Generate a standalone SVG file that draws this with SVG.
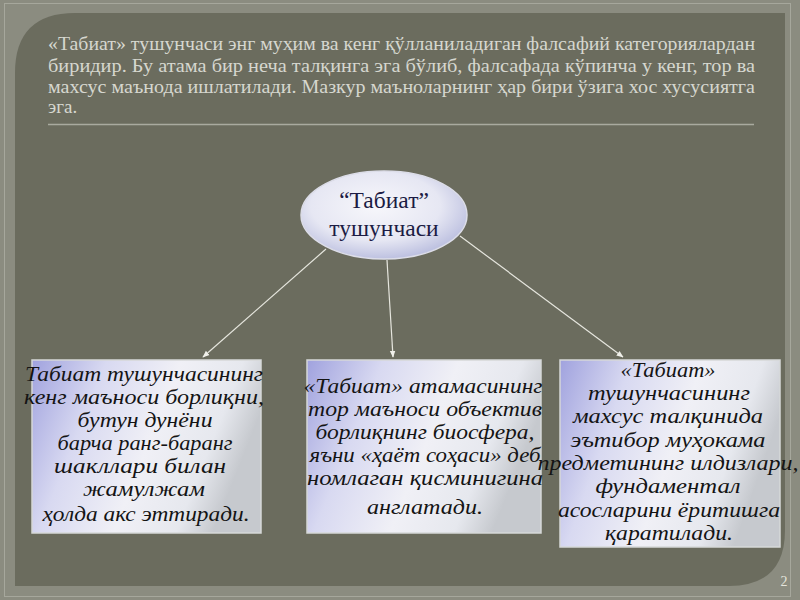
<svg xmlns="http://www.w3.org/2000/svg" width="800" height="600" viewBox="0 0 800 600">
  <defs>
    <radialGradient id="gEll" cx="0.45" cy="0.4" r="0.65">
      <stop offset="0" stop-color="#f7f7fb"/>
      <stop offset="0.6" stop-color="#e6e7f3"/>
      <stop offset="1" stop-color="#b4b8dc"/>
    </radialGradient>
    <linearGradient id="gBox" x1="0" y1="0" x2="1" y2="0.3">
      <stop offset="0" stop-color="#a0a2de"/>
      <stop offset="0.3" stop-color="#d8d9f1"/>
      <stop offset="0.6" stop-color="#f0f0f6"/>
      <stop offset="0.85" stop-color="#e6e8ee"/>
      <stop offset="1" stop-color="#c6c9ce"/>
    </linearGradient>
    <marker id="arr" viewBox="0 0 10 10" refX="9" refY="5" markerWidth="7" markerHeight="7" orient="auto" markerUnits="userSpaceOnUse">
      <path d="M0,1 L10,5 L0,9 Z" fill="#f0f0ea"/>
    </marker>
    <style>
      .hdr { font-family: "Liberation Serif", "DejaVu Serif", serif; font-size: 19px; fill: #d6d7cf; }
      .ell { font-family: "Liberation Serif", "DejaVu Serif", serif; font-size: 23.5px; fill: #1c1c44; text-anchor: middle; }
      .box { fill: url(#gBox); stroke: #d6d8d8; stroke-width: 1.5; }
      .bt { font-family: "Liberation Serif", "DejaVu Serif", serif; font-style: italic; font-size: 20px; fill: #141414; text-anchor: middle; }
      .conn { stroke: #e6e6de; stroke-width: 1.2; fill: none; marker-end: url(#arr); }
    </style>
  </defs>

  <!-- slide background -->
  <rect x="0" y="0" width="800" height="600" fill="#8b8c80"/>
  <rect x="4.5" y="3.5" width="786" height="593" fill="none" stroke="#a6a79c" stroke-width="1"/>
  <path d="M75,13 H785 V530 Q785,586 729,586 H15 V73 Q15,13 75,13 Z" fill="#6b6c5e"/>

  <!-- header -->
  <g id="header">
    <text class="hdr" x="48" y="50" textLength="707" lengthAdjust="spacingAndGlyphs">«Табиат» тушунчаси энг муҳим ва кенг қўлланиладиган фалсафий категориялардан</text>
    <text class="hdr" x="48" y="72" textLength="707" lengthAdjust="spacingAndGlyphs">биридир. Бу атама бир неча талқинга эга бўлиб, фалсафада кўпинча у кенг, тор ва</text>
    <text class="hdr" x="48" y="93" textLength="707" lengthAdjust="spacingAndGlyphs">махсус маънода ишлатилади. Мазкур маъноларнинг ҳар бири ўзига хос хусусиятга</text>
    <text class="hdr" x="48" y="113">эга.</text>
    <line x1="48" y1="124.5" x2="754" y2="124.5" stroke="#a9aa9f" stroke-width="1.5"/>
  </g>

  <!-- connectors -->
  <g id="connectors">
    <line class="conn" x1="326" y1="249" x2="203" y2="357"/>
    <line class="conn" x1="387" y1="260" x2="393" y2="357"/>
    <line class="conn" x1="460" y1="236" x2="623" y2="357"/>
  </g>

  <!-- central node -->
  <g id="node-center">
    <ellipse cx="384" cy="215" rx="83" ry="44" fill="url(#gEll)" stroke="#dcdde8" stroke-width="1.5"/>
    <text class="ell" x="384" y="208">“Табиат”</text>
    <text class="ell" x="384" y="236">тушунчаси</text>
  </g>

  <!-- box 1 -->
  <g id="node-broad">
    <rect class="box" x="32" y="360" width="229" height="173"/>
    <text class="bt" x="144" y="381" textLength="238" lengthAdjust="spacingAndGlyphs">Табиат тушунчасининг</text>
    <text class="bt" x="144" y="404" textLength="240" lengthAdjust="spacingAndGlyphs">кенг маъноси борлиқни,</text>
    <text class="bt" x="145" y="427" textLength="135" lengthAdjust="spacingAndGlyphs">бутун дунёни</text>
    <text class="bt" x="145" y="450" textLength="175" lengthAdjust="spacingAndGlyphs">барча ранг-баранг</text>
    <text class="bt" x="140" y="473" textLength="172" lengthAdjust="spacingAndGlyphs">шакллари билан</text>
    <text class="bt" x="144" y="496" textLength="122" lengthAdjust="spacingAndGlyphs">жамулжам</text>
    <text class="bt" x="146" y="521" textLength="207" lengthAdjust="spacingAndGlyphs">ҳолда акс эттиради.</text>
  </g>

  <!-- box 2 -->
  <g id="node-narrow">
    <rect class="box" x="307" y="360" width="234" height="173"/>
    <text class="bt" x="423" y="393" textLength="239" lengthAdjust="spacingAndGlyphs">«Табиат» атамасининг</text>
    <text class="bt" x="425" y="416" textLength="234" lengthAdjust="spacingAndGlyphs">тор маъноси объектив</text>
    <text class="bt" x="425" y="439" textLength="219" lengthAdjust="spacingAndGlyphs">борлиқнинг биосфера,</text>
    <text class="bt" x="425" y="462" textLength="231" lengthAdjust="spacingAndGlyphs">яъни «ҳаёт соҳаси» деб</text>
    <text class="bt" x="425" y="485" textLength="236" lengthAdjust="spacingAndGlyphs">номлаган қисминигина</text>
    <text class="bt" x="425" y="514" textLength="116" lengthAdjust="spacingAndGlyphs">англатади.</text>
  </g>

  <!-- box 3 -->
  <g id="node-special">
    <rect class="box" x="560" y="360" width="220" height="187"/>
    <text class="bt" x="668" y="377" textLength="95" lengthAdjust="spacingAndGlyphs">«Табиат»</text>
    <text class="bt" x="669" y="400" textLength="162" lengthAdjust="spacingAndGlyphs">тушунчасининг</text>
    <text class="bt" x="668" y="423" textLength="190" lengthAdjust="spacingAndGlyphs">махсус талқинида</text>
    <text class="bt" x="668" y="447" textLength="195" lengthAdjust="spacingAndGlyphs">эътибор муҳокама</text>
    <text class="bt" x="668" y="470" textLength="261" lengthAdjust="spacingAndGlyphs">предметининг илдизлари,</text>
    <text class="bt" x="668" y="493" textLength="145" lengthAdjust="spacingAndGlyphs">фундаментал</text>
    <text class="bt" x="669" y="517" textLength="222" lengthAdjust="spacingAndGlyphs">асосларини ёритишга</text>
    <text class="bt" x="669" y="540" textLength="128" lengthAdjust="spacingAndGlyphs">қаратилади.</text>
  </g>

  <text x="784" y="586" font-family="Liberation Serif, serif" font-size="14" fill="#e4e4dc" text-anchor="middle">2</text>
</svg>
